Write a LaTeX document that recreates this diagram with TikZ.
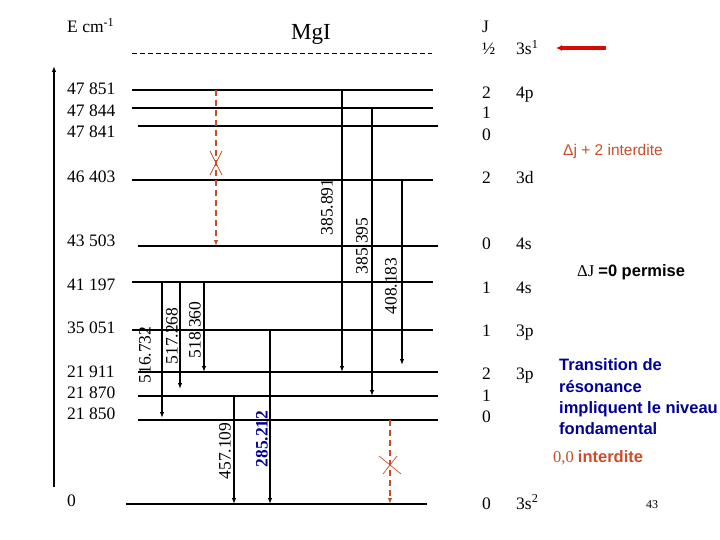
\documentclass[tikz,border=0pt]{standalone}
\usepackage{fontspec}
\setmainfont{Liberation Serif}
\setsansfont{Liberation Sans}
\usetikzlibrary{arrows.meta}

\definecolor{brique}{RGB}{200,78,40}
\definecolor{marine}{RGB}{0,0,150}
\definecolor{rouge}{RGB}{215,10,10}

\tikzset{
    niveau/.style={line width=1.2pt},
    trans/.style={line width=1.9pt,->},
    interdit/.style={line width=1.9pt,brique,dash pattern=on 6pt off 4pt,->},
    croix/.style={line width=0.7pt,brique},
    chiffre/.style={font=\fontsize{17.5}{18}\selectfont,inner sep=0pt},
    remarque/.style={font=\sffamily\fontsize{15.5}{16}\selectfont,inner sep=0pt,anchor=base west},
    resonance/.style={font=\sffamily\bfseries\fontsize{16.5}{17}\selectfont,marine,inner sep=0pt,anchor=base west}
}

\begin{document}
\begin{tikzpicture}[x=1pt,y=-1pt,>={Latex[length=6pt,width=4.5pt]}]
        \useasboundingbox (0,0) rectangle (720,540);

        % niveaux d'energie
        \coordinate (n47851) at (132,90);
        \coordinate (n47844) at (132,108);
        \coordinate (n47841) at (138,126);
        \coordinate (n46403) at (132,180);
        \coordinate (n43503) at (138,246);
        \coordinate (n41197) at (132,282);
        \coordinate (n35051) at (132,330);
        \coordinate (n21911) at (138,372);
        \coordinate (n21870) at (138,396);
        \coordinate (n21850) at (138,420);
        \coordinate (n0) at (126,504);

        \draw[line width=1pt,dash pattern=on 5pt off 3pt] (132,54) -- (432,54);
        \draw[niveau] (n47851) -- ++(301,0);
        \draw[niveau] (n47844) -- ++(301,0);
        \draw[niveau] (n47841) -- ++(300,0);
        \draw[niveau] (n46403) -- ++(301,0);
        \draw[niveau] (n43503) -- ++(300,0);
        \draw[niveau] (n41197) -- ++(301,0);
        \draw[niveau] (n35051) -- ++(301,0);
        \draw[niveau] (n21911) -- ++(300,0);
        \draw[niveau] (n21870) -- ++(300,0);
        \draw[niveau] (n21850) -- ++(300,0);
        \draw[niveau] (n0) -- ++(301,0);

        % axe
        \coordinate (axe0) at (54,487);
        \coordinate (axe1) at (54,66);
        \draw[line width=2.4pt,->] (axe0) -- (axe1);

        % transitions
        \draw[trans] (342,0 |- n47851) -- (342,0 |- n21911);
        \draw[trans] (372,0 |- n47844) -- (372,0 |- n21870);
        \draw[trans] (402,0 |- n46403) -- (402,365);
        \draw[trans] (162,0 |- n41197) -- (162,418);
        \draw[trans] (180,0 |- n41197) -- (180,389);
        \draw[trans] (204,0 |- n41197) -- (204,0 |- n21911);
        \draw[trans] (234,0 |- n21870) -- (234,0 |- n0);
        \draw[trans] (270,0 |- n35051) -- (270,0 |- n0);

        % transitions interdites
        \draw[interdit] (216,0 |- n47851) -- (216,0 |- n43503);
        \draw[croix] (210,151) -- (222,175);
        \draw[croix] (222,151) -- (210,175);
        \draw[interdit] (390,0 |- n21850) -- (390,0 |- n0);
        \draw[croix] (379,456) -- (401,474);
        \draw[croix] (397,456) -- (383,474);

        \draw[line width=3.2pt,rouge,-{Latex[length=6pt,width=6pt]}] (606,48) -- (556,48);

        \node[chiffre,anchor=base west] (unite) at (67,33) {E cm\textsuperscript{-1}};
        \node[font=\fontsize{23}{24}\selectfont,inner sep=0pt,anchor=base] (titre) at (311,40) {MgI};

        \node[chiffre,anchor=base west] (e47851) at (67,95) {47 851};
        \node[chiffre,anchor=base west] (e47844) at (67,117) {47 844};
        \node[chiffre,anchor=base west] (e47841) at (67,138) {47 841};
        \node[chiffre,anchor=base west] (e46403) at (67,183) {46 403};
        \node[chiffre,anchor=base west] (e43503) at (67,247) {43 503};
        \node[chiffre,anchor=base west] (e41197) at (67,290) {41 197};
        \node[chiffre,anchor=base west] (e35051) at (67,333) {35 051};
        \node[chiffre,anchor=base west] (e21911) at (67,377) {21 911};
        \node[chiffre,anchor=base west] (e21870) at (67,398) {21 870};
        \node[chiffre,anchor=base west] (e21850) at (67,419) {21 850};
        \node[chiffre,anchor=base west] (e0) at (67,506) {0};

        \node[chiffre,rotate=90] (l385891) at (327,207) {385.891};
        \node[chiffre,rotate=90] (l385395) at (362,246) {385.395};
        \node[chiffre,rotate=90] (l408183) at (391,286) {408.183};
        \node[chiffre,rotate=90] (l516732) at (145,355) {516.732};
        \node[chiffre,rotate=90] (l517268) at (172,336) {517.268};
        \node[chiffre,rotate=90] (l518360) at (195,330) {518.360};
        \node[chiffre,rotate=90] (l457109) at (225,451) {457.109};
        \node[chiffre,rotate=90,marine,font=\fontsize{17.5}{18}\selectfont\bfseries] (l285212) at (262,439) {285.212};

        % colonne J et configurations
        \node[chiffre,anchor=base west] (jtitre) at (482,33) {J};
        \node[chiffre,anchor=base west] (j3s1) at (482,55) {½};
        \node[chiffre,anchor=base west] (c3s1) at (516,55) {3s\textsuperscript{1}};
        \node[chiffre,anchor=base west] (j4p2) at (482,99) {2};
        \node[chiffre,anchor=base west] (c4p) at (516,99) {4p};
        \node[chiffre,anchor=base west] (j4p1) at (482,119) {1};
        \node[chiffre,anchor=base west] (j4p0) at (482,141) {0};
        \node[chiffre,anchor=base west] (j3d) at (482,184) {2};
        \node[chiffre,anchor=base west] (c3d) at (516,184) {3d};
        \node[chiffre,anchor=base west] (j4s0) at (482,249) {0};
        \node[chiffre,anchor=base west] (c4s0) at (516,249) {4s};
        \node[chiffre,anchor=base west] (j4s1) at (482,293) {1};
        \node[chiffre,anchor=base west] (c4s1) at (516,293) {4s};
        \node[chiffre,anchor=base west] (j3p) at (482,336) {1};
        \node[chiffre,anchor=base west] (c3p) at (516,336) {3p};
        \node[chiffre,anchor=base west] (j3pt2) at (482,379) {2};
        \node[chiffre,anchor=base west] (c3pt) at (516,379) {3p};
        \node[chiffre,anchor=base west] (j3pt1) at (482,401) {1};
        \node[chiffre,anchor=base west] (j3pt0) at (482,422) {0};
        \node[chiffre,anchor=base west] (j3s2) at (482,509) {0};
        \node[chiffre,anchor=base west] (c3s2) at (516,509) {3s\textsuperscript{2}};

        % remarques
        \node[remarque,brique] (rdj) at (563,156) {Δj + 2 interdite};
        \node[remarque,font=\sffamily\bfseries\fontsize{16.5}{17}\selectfont] (rdJ) at (577,276) {\rmfamily\mdseries ΔJ \sffamily\bfseries=0 permise};
        \node[resonance] (res1) at (559,370) {Transition de};
        \node[resonance] (res2) at (559,392) {résonance};
        \node[resonance] (res3) at (559,413) {impliquent le niveau};
        \node[resonance] (res4) at (559,434) {fondamental};
        \node[remarque,brique,font=\sffamily\bfseries\fontsize{16.5}{17}\selectfont] (r00) at (553,462) {\rmfamily\mdseries 0,0 \sffamily\bfseries interdite};
        \node[font=\fontsize{12}{13}\selectfont,inner sep=0pt,anchor=base] (page) at (652,508) {43};

\end{tikzpicture}
\end{document}
